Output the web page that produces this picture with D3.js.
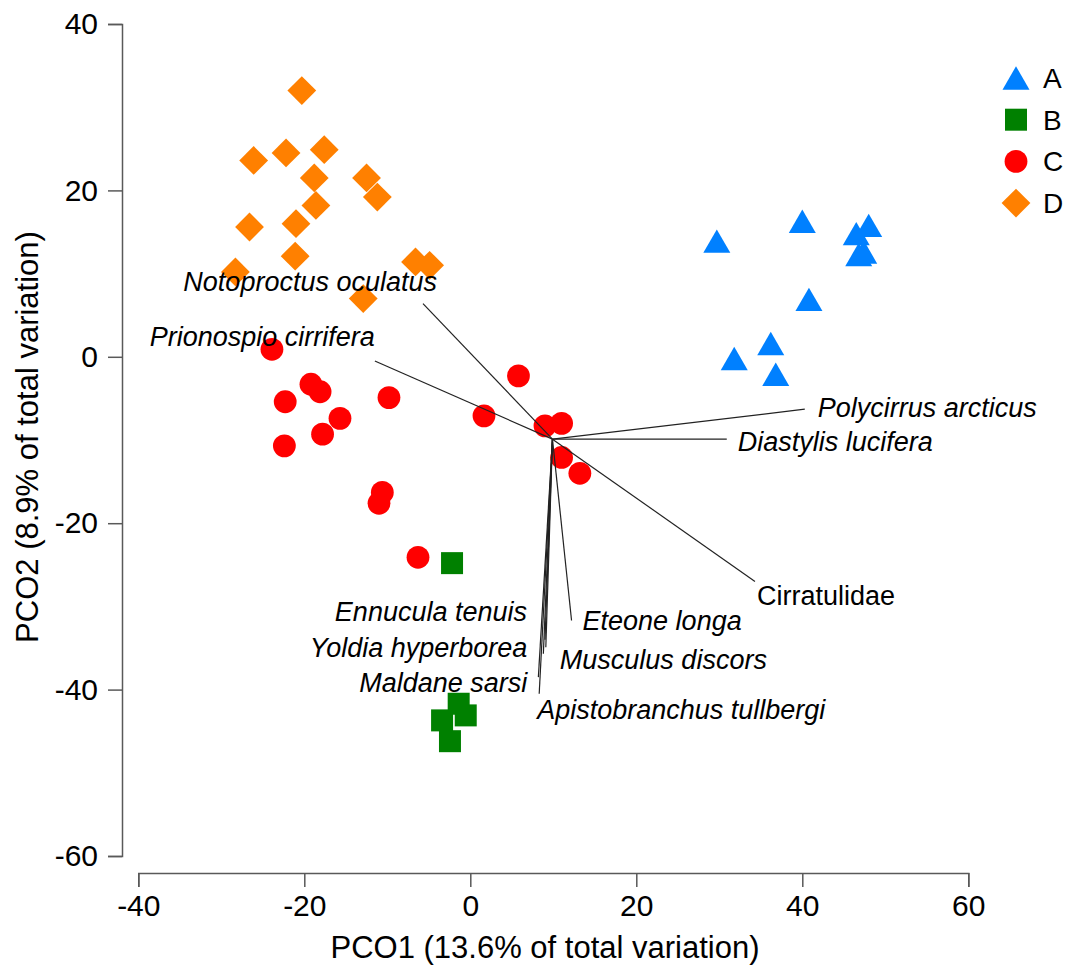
<!DOCTYPE html>
<html>
<head>
<meta charset="utf-8">
<script src="https://cdn.jsdelivr.net/npm/d3@7"></script>
<style>
  body { margin: 0; background: #fff; }
  svg { display: block; font-family: "Liberation Sans", Arial, sans-serif; }
  .axis path, .axis line { stroke: #595959; stroke-width: 1.5px; }
  .axis text { fill: #000; font-size: 30px; font-family: "Liberation Sans", Arial, sans-serif; }
</style>
</head>
<body>
<div class="pco-plot"></div>
<script>
// group scores, [PCO1, PCO2]
var groups = ["A", "B", "C", "D"];

var groupA = [[29.7, 13.9], [40.0, 16.3], [48.0, 15.8], [46.5, 14.8], [46.8, 12.3], [47.4, 12.6],
              [40.8, 6.9], [36.2, 1.6], [31.8, -0.2], [36.8, -2.1]];

var groupB = [[-2.2, -24.8], [-1.4, -41.7], [-0.55, -43.1], [-3.4, -43.7], [-2.45, -46.2]];

var groupC = [[-23.9, 0.9], [-19.2, -3.3], [-18.1, -4.2], [-22.3, -5.4], [-9.8, -4.9], [-15.7, -7.4],
              [-17.8, -9.3], [-22.4, -10.7], [5.8, -2.3], [1.65, -7.1], [9.0, -8.3], [11.0, -8.0],
              [11.0, -12.1], [13.2, -14.0], [-10.6, -16.3], [-11.0, -17.6], [-6.3, -24.1]];

var groupD = [[-20.3, 32.0], [-26.1, 23.6], [-22.2, 24.5], [-17.6, 24.9], [-18.8, 21.5], [-12.5, 21.5],
              [-11.2, 19.2], [-18.6, 18.2], [-26.6, 15.6], [-21.0, 16.0], [-21.1, 12.1], [-28.3, 10.2],
              [-6.6, 11.4], [-4.9, 11.0], [-12.9, 7.0]];

// correlation vectors (all start from one origin)
var vectorOrigin = [9.9, -9.9];
var vectorNames = ["Notoproctus oculatus", "Prionospio cirrifera", "Polycirrus arcticus", "Diastylis lucifera",
                   "Cirratulidae", "Eteone longa", "Ennucula tenuis", "Yoldia hyperborea", "Maldane sarsi",
                   "Musculus discors", "Apistobranchus tullbergi"];
var vectorEnds = [[-5.7, 6.4], [-11.5, -0.5], [40.3, -6.3], [30.9, -9.9],
                  [34.3, -27.0], [12.2, -31.7], [9.0, -34.0], [8.8, -35.7], [8.2, -38.5],
                  [9.1, -34.9], [8.3, -40.5]];

var xTicks = [-40, -20, 0, 20, 40, 60];
var yTicks = [-60, -40, -20, 0, 20, 40];

// label placement next to each vector tip: [dx, dy, anchor, italic]
var labelPlace = {
  "Notoproctus oculatus": [14, -13, "end", true],
  "Prionospio cirrifera": [0, -15, "end", true],
  "Polycirrus arcticus": [13, 8, "start", true],
  "Diastylis lucifera": [11, 12, "start", true],
  "Cirratulidae": [2, 24, "start", false],
  "Eteone longa": [11, 9, "start", true],
  "Ennucula tenuis": [-18, -19, "end", true],
  "Yoldia hyperborea": [-16, 3, "end", true],
  "Maldane sarsi": [-11, 15, "end", true],
  "Musculus discors": [14, 22, "start", true],
  "Apistobranchus tullbergi": [-2, 25, "start", true]
};

var width = 1067, height = 967;

var svg = d3.select(".pco-plot")
            .append("svg")
            .attr("width", width)
            .attr("height", height);

var x = d3.scaleLinear().domain([-40, 60]).range([138.3, 968.3]);
var y = d3.scaleLinear().domain([-60, 40]).range([856, 24]);

// bbox-centred symbols, sized as in the figure
var triangle = { draw: function(ctx, s) { var w = Math.sqrt(s), h = w * 0.866;
  ctx.moveTo(0, -h / 2); ctx.lineTo(w / 2, h / 2); ctx.lineTo(-w / 2, h / 2); ctx.closePath(); } };
var square = { draw: function(ctx, s) { var a = Math.sqrt(s) / 2;
  ctx.rect(-a, -a, 2 * a, 2 * a); } };
var circle = { draw: function(ctx, s) { var r = Math.sqrt(s) / 2;
  ctx.moveTo(r, 0); ctx.arc(0, 0, r, 0, 2 * Math.PI); } };
var diamond = { draw: function(ctx, s) { var a = Math.sqrt(s) / 2;
  ctx.moveTo(0, -a); ctx.lineTo(a, 0); ctx.lineTo(0, a); ctx.lineTo(-a, 0); ctx.closePath(); } };

var style = {
  A: { type: triangle, size: 27 * 27, color: "#0080FF" },
  B: { type: square, size: 22 * 22, color: "#008000" },
  C: { type: circle, size: 22.8 * 22.8, color: "#FF0000" },
  D: { type: diamond, size: 28.8 * 28.8, color: "#FF8000" }
};
var groupData = { A: groupA, B: groupB, C: groupC, D: groupD };

// plain hyphen minus, like the original
var fmt = function(d) { return String(d); };

// axes
svg.append("g")
   .attr("class", "axis")
   .attr("transform", "translate(0,873)")
   .call(d3.axisBottom(x).tickValues(xTicks).tickFormat(fmt).tickSize(14).tickPadding(8));

svg.append("g")
   .attr("class", "axis")
   .attr("transform", "translate(122,0)")
   .call(d3.axisLeft(y).tickValues(yTicks).tickFormat(fmt).tickSize(14).tickPadding(10));

svg.append("text")
   .attr("x", 545).attr("y", 958)
   .attr("text-anchor", "middle")
   .style("font-size", "31px")
   .text("PCO1 (13.6% of total variation)");

svg.append("text")
   .attr("transform", "translate(38,437) rotate(-90)")
   .attr("text-anchor", "middle")
   .style("font-size", "31px")
   .text("PCO2 (8.9% of total variation)");

// points: D drawn first, then C, B, A
["D", "C", "B", "A"].forEach(function(g) {
  svg.append("g").selectAll("path")
     .data(groupData[g])
   .enter().append("path")
     .attr("transform", function(d) { return "translate(" + x(d[0]) + "," + y(d[1]) + ")"; })
     .attr("d", d3.symbol().type(style[g].type).size(style[g].size))
     .attr("fill", style[g].color);
});

// vectors
svg.append("g").selectAll("line")
   .data(vectorEnds)
 .enter().append("line")
   .attr("x1", x(vectorOrigin[0])).attr("y1", y(vectorOrigin[1]))
   .attr("x2", function(d) { return x(d[0]); })
   .attr("y2", function(d) { return y(d[1]); })
   .attr("stroke", "#222")
   .attr("stroke-width", 1.2);

svg.append("g").selectAll("text")
   .data(vectorNames)
 .enter().append("text")
   .attr("x", function(d, i) { return x(vectorEnds[i][0]) + labelPlace[d][0]; })
   .attr("y", function(d, i) { return y(vectorEnds[i][1]) + labelPlace[d][1]; })
   .attr("text-anchor", function(d) { return labelPlace[d][2]; })
   .style("font-style", function(d) { return labelPlace[d][3] ? "italic" : "normal"; })
   .style("font-size", "27px")
   .text(function(d) { return d; });

// legend
var legend = svg.append("g").selectAll("g")
   .data(groups)
 .enter().append("g")
   .attr("transform", function(d, i) { return "translate(1016," + (78 + i * 41.7) + ")"; });

legend.append("path")
   .attr("d", function(d) { return d3.symbol().type(style[d].type).size(style[d].size)(); })
   .attr("fill", function(d) { return style[d].color; });

legend.append("text")
   .attr("x", 27).attr("y", 10)
   .style("font-size", "28px")
   .text(function(d) { return d; });
</script>
</body>
</html>
